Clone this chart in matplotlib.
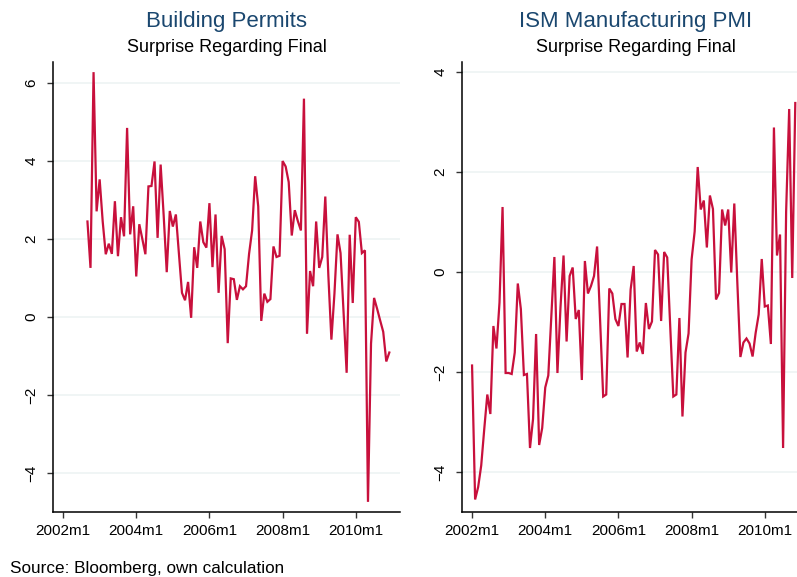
import numpy as np
import matplotlib
matplotlib.use("Agg")
import matplotlib.pyplot as plt

plt.rcParams['font.family'] = ['Liberation Sans', 'DejaVu Sans']

# months counted from 2002m1
bp_start = 8   # 2002m9
bp = [2.45, 1.26, 6.28, 2.71,
      3.53, 2.45, 1.61, 1.88, 1.62, 2.97, 1.56, 2.56, 2.07, 4.85, 2.12, 2.84,
      1.04, 2.38, 2.0, 1.61, 3.35, 3.36, 3.99, 2.03, 3.91, 2.6, 1.15, 2.72,
      2.32, 2.63, 1.62, 0.62, 0.43, 0.9, -0.02, 1.79, 1.26, 2.45, 1.92, 1.78,
      2.92, 1.28, 2.63, 0.62, 2.08, 1.74, -0.67, 0.99, 0.97, 0.44, 0.79, 0.71,
      0.79, 1.62, 2.22, 3.61, 2.84, -0.10, 0.60, 0.39, 0.46, 1.81, 1.54, 1.57,
      4.0, 3.86, 3.46, 2.09, 2.74, 2.46, 2.22, 5.6, -0.43, 1.18, 0.79, 2.45,
      1.26, 1.54, 3.09, 1.07, -0.58, 0.6, 2.12, 1.64, 0.11, -1.43, 2.11, 0.36,
      2.56, 2.44, 1.64, 1.71, -4.74, -0.68, 0.49, 0.21, -0.09, -0.38, -1.14, -0.91]

ism_start = 0  # 2002m1
ism = [-1.87, -4.55, -4.30, -3.87, -3.14, -2.45, -2.84, -1.08, -1.53, -0.61, 1.30, -2.02,
       -2.02, -2.04, -1.61, -0.23, -0.74, -2.06, -2.04, -3.52, -2.94, -1.24, -3.46, -3.12,
       -2.31, -2.07, -0.88, 0.30, -2.02, -0.71, 0.33, -1.39, -0.08, 0.09, -0.94, -0.76,
       -2.16, 0.22, -0.43, -0.28, -0.08, 0.51, -0.98, -2.49, -2.45, -0.33, -0.43, -0.94,
       -1.08, -0.64, -0.64, -1.71, -0.35, 0.12, -1.59, -1.41, -1.64, -0.62, -1.14, -0.99,
       0.44, 0.35, -0.98, 0.40, 0.29, -1.11, -2.49, -2.45, -0.92, -2.89, -1.61, -1.23,
       0.25, 0.81, 2.10, 1.25, 1.43, 0.49, 1.53, 1.26, -0.55, -0.42, 1.25, 0.93,
       1.25, -0.01, 1.37, -0.22, -1.70, -1.41, -1.33, -1.43, -1.69, -1.22, -0.85, 0.26,
       -0.69, -0.67, -1.44, 2.89, 0.33, 0.75, -3.52, 1.21, 3.26, -0.12, 3.38]

xticks = [0, 24, 48, 72, 96]
xticklabels = ["2002m1", "2004m1", "2006m1", "2008m1", "2010m1"]
bp_yticks = [-4, -2, 0, 2, 4, 6]
ism_yticks = [-4, -2, 0, 2, 4]

LINE = "#c8103c"
NAVY = "#1a476f"
GRID = "#edf3f4"

W, H = 797, 577
fig = plt.figure(figsize=(W / 100, H / 100), dpi=100)
fig.patch.set_facecolor("white")


def panel(x0, series, start, yticks, ylim, title):
    ax = fig.add_axes([x0 / W, (H - 512) / H, 347 / W, 450 / H])
    x = np.arange(start, start + len(series))
    ax.plot(x, series, color=LINE, lw=1.6, solid_joinstyle="miter", zorder=3)
    ax.set_xlim(-3.3, 110.5)
    ax.set_ylim(*ylim)
    ax.set_xticks(xticks)
    ax.set_xticklabels(xticklabels)
    ax.set_yticks(yticks)
    ax.set_yticklabels([str(v).replace("-", "\u2212") for v in yticks],
                       rotation=90, va="center")
    ax.grid(axis="y", color=GRID, lw=1.2, zorder=0)
    for s in ("top", "right"):
        ax.spines[s].set_visible(False)
    for s in ("left", "bottom"):
        ax.spines[s].set_linewidth(1.1)
    ax.tick_params(axis="both", direction="out", length=4.5, width=1,
                   color="#333333", labelsize=11, pad=4)
    ax.tick_params(axis="y", pad=6)
    cx = (x0 + 347 / 2) / W
    fig.text(cx, 1 - 21 / H, title, ha="center", va="center",
             fontsize=16, color=NAVY)
    fig.text(cx, 1 - 47 / H, "Surprise Regarding Final", ha="center",
             va="center", fontsize=13, color="black")
    return ax


panel(53, bp, bp_start, bp_yticks, (-5.0, 6.54), "Building Permits")
panel(462, ism, ism_start, ism_yticks, (-4.8, 4.2), "ISM Manufacturing PMI")

fig.text(10 / W, 1 - 568 / H, "Source: Bloomberg, own calculation",
         ha="left", va="center", fontsize=12.3)

fig.savefig("out.png", dpi=100)
